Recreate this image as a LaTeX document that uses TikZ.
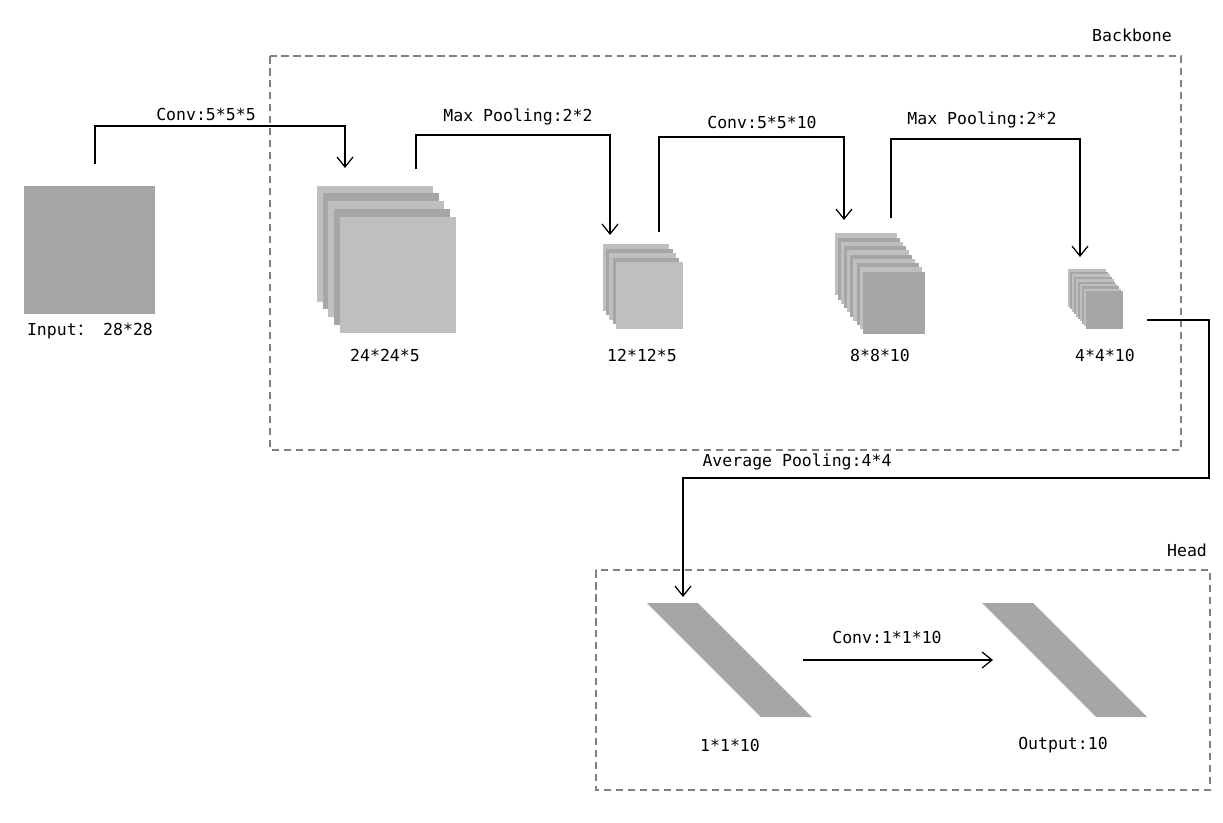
\documentclass[tikz,border=0pt]{standalone}
\usepackage{fontspec}
\setmonofont{DejaVu Sans Mono}
\newfontfamily\cjkfont{Noto Sans CJK SC}
\usetikzlibrary{arrows.meta}
\definecolor{maplight}{RGB}{191,191,191}
\definecolor{mapdark}{RGB}{166,166,166}
\definecolor{boxgray}{RGB}{128,128,128}
\tikzset{
  lbl/.style={font=\ttfamily\fontsize{9.4}{11}\selectfont, inner sep=1pt},
  flow/.style={line width=0.7pt, -{Straight Barb[length=2mm,width=3.2mm]}},
  group/.style={draw=boxgray, line width=0.6pt, dash pattern=on 1.5mm off 0.9mm},
}

\begin{document}
\begin{tikzpicture}[x=0.02cm, y=-0.02cm]
  \useasboundingbox (0,0) rectangle (1223,822);

  % dashed groups
  \draw [group] (270,56) rectangle (1181,450);
  \draw [group] (596,570) rectangle (1210,790);
  \node [lbl] (backbone) at (1132,35) {Backbone};
  \node [lbl] (head) at (1187,550) {Head};

  % input image
  \fill [mapdark] (24,186) rectangle (155,314);
  \node [lbl] (input) at (90,331) {Input{\cjkfont ：} 28*28};

  % feature maps: x/y of back layer, size, last index, step x/y
  \foreach \x/\y/\s/\n/\dx/\dy in {316.7/185.7/116/4/5.83/7.75,
                                   602.7/244.3/66.5/4/3.33/4.5,
                                   835/233.3/62/9/3.08/4.27,
                                   1068.3/269.3/37.5/9/1.93/2.44} {
    \foreach \i in {0,...,\n} {
      \ifodd\i \def\col{mapdark}\else\def\col{maplight}\fi
      \fill [\col] (\x+\dx*\i, \y+\dy*\i) rectangle ++(\s,\s);
    }
  }
  \node [lbl] (map1) at (385,355) {24*24*5};
  \node [lbl] (map2) at (642,355) {12*12*5};
  \node [lbl] (map3) at (880,355) {8*8*10};
  \node [lbl] (map4) at (1105,355) {4*4*10};

  % head layers
  \fill [mapdark] (647,603) -- (698,603) -- (812,717) -- (761,717) -- cycle;
  \fill [mapdark] (982,603) -- (1033,603) -- (1147,717) -- (1096,717) -- cycle;
  \node [lbl] (vec) at (730,745) {1*1*10};
  \node [lbl] (output) at (1063,745) {Output:10};

  % connectors
  \coordinate (s1) at (95,164);   \coordinate (k1) at (345,126);  \coordinate (e1) at (345,168);
  \coordinate (s2) at (416,169);  \coordinate (k2) at (610,135);  \coordinate (e2) at (610,235);
  \coordinate (s3) at (659,232);  \coordinate (k3) at (844,137);  \coordinate (e3) at (844,220);
  \coordinate (s4) at (891,218);  \coordinate (k4) at (1080,139); \coordinate (e4) at (1080,257);
  \coordinate (s5) at (1147,320); \coordinate (k5) at (1209,478); \coordinate (e5) at (683,597);
  \coordinate (s6) at (803,660);  \coordinate (e6) at (993,660);

  \draw [flow] (s1) |- (k1) -- (e1);
  \draw [flow] (s2) |- (k2) -- (e2);
  \draw [flow] (s3) |- (k3) -- (e3);
  \draw [flow] (s4) |- (k4) -- (e4);
  \draw [flow] (s5) -| (k5) -| (e5);
  \draw [flow] (s6) -- (e6);

  \node [lbl] (conv1) at (206,114) {Conv:5*5*5};
  \node [lbl] (pool1) at (518,117) {Max Pooling:2*2};
  \node [lbl] (conv2) at (762,122) {Conv:5*5*10};
  \node [lbl] (pool2) at (982,120) {Max Pooling:2*2};
  \node [lbl] (avgpool) at (797,462) {Average Pooling:4*4};
  \node [lbl] (conv3) at (887,637) {Conv:1*1*10};
\end{tikzpicture}
\end{document}
